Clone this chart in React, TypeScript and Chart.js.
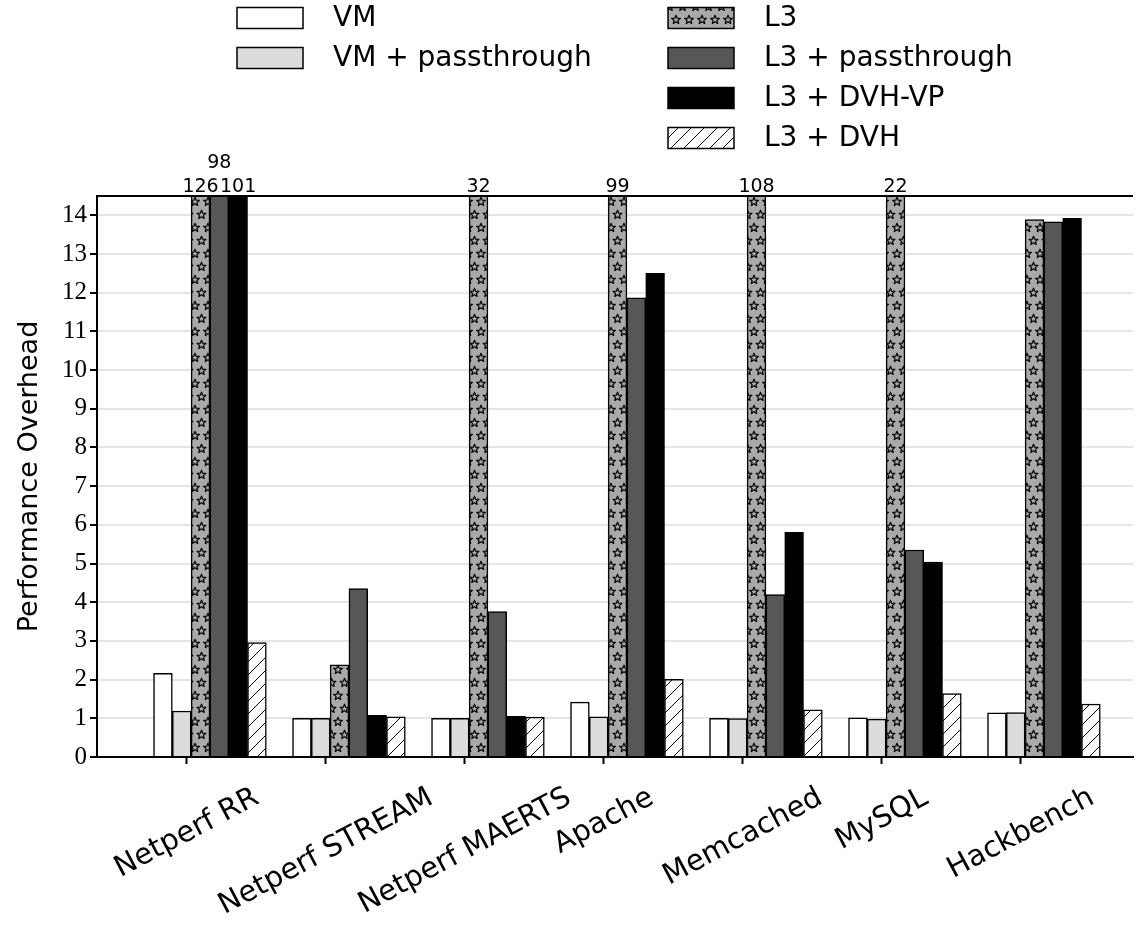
import { useEffect, useRef } from "react";
import { Chart, registerables } from "chart.js";

Chart.register(...registerables);

// Benchmarks along the x axis
const categories = [
  "Netperf RR",
  "Netperf STREAM",
  "Netperf MAERTS",
  "Apache",
  "Memcached",
  "MySQL",
  "Hackbench",
];

// Series names, in drawing order within each group
const seriesNames = [
  "VM",
  "VM + passthrough",
  "L3",
  "L3 + passthrough",
  "L3 + DVH-VP",
  "L3 + DVH",
];

// Normalized overhead per benchmark
const vm = [2.16, 1.0, 1.0, 1.42, 1.0, 1.01, 1.14];
const vmPassthrough = [1.19, 1.0, 1.0, 1.04, 0.99, 0.98, 1.15];
const l3 = [126, 2.38, 32, 99, 108, 22, 13.89];
const l3Passthrough = [98, 4.35, 3.76, 11.87, 4.2, 5.35, 13.83];
const l3DvhVp = [101, 1.08, 1.05, 12.5, 5.81, 5.04, 13.92];
const l3Dvh = [2.96, 1.04, 1.03, 2.01, 1.22, 1.64, 1.37];

const seriesValues = [vm, vmPassthrough, l3, l3Passthrough, l3DvhVp, l3Dvh];

// Value axis
const yMin = 0;
const yMax = 14.5;
const yStep = 1;

const FONT_SANS = "'DejaVu Sans', sans-serif";
const FONT_SERIF = "'Liberation Serif', 'DejaVu Serif', serif";

function makeStarPattern(ctx: CanvasRenderingContext2D): CanvasPattern {
  const c = document.createElement("canvas");
  c.width = 13;
  c.height = 26;
  const g = c.getContext("2d")!;
  g.fillStyle = "#a9a9a9";
  g.fillRect(0, 0, c.width, c.height);
  g.strokeStyle = "#000";
  g.lineWidth = 1.2;
  g.lineJoin = "round";
  const star = (cx: number, cy: number) => {
    const outer = 4.6;
    const inner = 2.0;
    g.beginPath();
    for (let i = 0; i < 10; i++) {
      const r = i % 2 === 0 ? outer : inner;
      const a = -Math.PI / 2 + (i * Math.PI) / 5;
      const px = cx + r * Math.cos(a);
      const py = cy + r * Math.sin(a);
      if (i === 0) g.moveTo(px, py);
      else g.lineTo(px, py);
    }
    g.closePath();
    g.stroke();
  };
  star(6.5, 6.8);
  star(0, 19.8);
  star(13, 19.8);
  return ctx.createPattern(c, "repeat")!;
}

function makeHatchPattern(ctx: CanvasRenderingContext2D): CanvasPattern {
  const s = 13;
  const c = document.createElement("canvas");
  c.width = s;
  c.height = s;
  const g = c.getContext("2d")!;
  g.fillStyle = "#ffffff";
  g.fillRect(0, 0, s, s);
  g.strokeStyle = "#000";
  g.lineWidth = 1;
  g.beginPath();
  g.moveTo(-1, s + 1);
  g.lineTo(s + 1, -1);
  g.moveTo(-2, 1);
  g.lineTo(1, -2);
  g.moveTo(s - 1, s + 2);
  g.lineTo(s + 2, s - 1);
  g.stroke();
  return ctx.createPattern(c, "repeat")!;
}

export default function App() {
  const canvasRef = useRef<HTMLCanvasElement | null>(null);

  useEffect(() => {
    const canvas = canvasRef.current;
    if (!canvas) return;
    const ctx = canvas.getContext("2d")!;

    const fills: (string | CanvasPattern)[] = [
      "#ffffff",
      "#dcdcdc",
      makeStarPattern(ctx),
      "#575757",
      "#000000",
      makeHatchPattern(ctx),
    ];

    // Groups sit slightly right of their tick, bars adjacent
    const groupOffset = 0.165;
    const barThickness = 18.8;

    const datasets = seriesNames.map((name, k) => ({
      label: name,
      data: seriesValues[k].map((v, i) => ({ x: i + groupOffset, y: v })),
      backgroundColor: fills[k],
      borderColor: "#000000",
      borderWidth: 1.5,
      barThickness,
    }));

    // Legend laid out in two columns
    const legendItems = [
      { k: 0, col: 0, row: 0 },
      { k: 1, col: 0, row: 1 },
      { k: 2, col: 1, row: 0 },
      { k: 3, col: 1, row: 1 },
      { k: 4, col: 1, row: 2 },
      { k: 5, col: 1, row: 3 },
    ];

    const decorations = {
      id: "decorations",
      afterDatasetsDraw(chart: Chart) {
        const c = chart.ctx;
        const area = chart.chartArea;
        c.save();
        // Values of bars that run past the top of the axis
        c.font = `19px ${FONT_SANS}`;
        c.fillStyle = "#000";
        c.textAlign = "center";
        c.textBaseline = "alphabetic";
        categories.forEach((_, i) => {
          let prevClipped = false;
          let prevLevel = 0;
          seriesValues.forEach((vals, k) => {
            const v = vals[i];
            if (v > yMax) {
              const level = prevClipped && prevLevel === 0 ? 1 : 0;
              const el: any = chart.getDatasetMeta(k).data[i];
              c.fillText(String(v), el.x, area.top - 4 - level * 24);
              prevClipped = true;
              prevLevel = level;
            } else {
              prevClipped = false;
            }
          });
        });
        c.restore();
      },
      afterDraw(chart: Chart) {
        const c = chart.ctx;
        const area = chart.chartArea;
        c.save();

        // Top spine
        c.strokeStyle = "#000";
        c.lineWidth = 2;
        c.beginPath();
        c.moveTo(area.left - 1, area.top);
        c.lineTo(area.right, area.top);
        c.stroke();

        // Rotated category labels, centred under each tick
        const xScale: any = chart.scales.x;
        const angle = (28 * Math.PI) / 180;
        const fontSize = 29;
        c.font = `${fontSize}px ${FONT_SANS}`;
        c.fillStyle = "#000";
        c.textAlign = "center";
        c.textBaseline = "middle";
        const boxTop = area.bottom + 24;
        const lineH = fontSize * 1.17;
        categories.forEach((label, i) => {
          const w = c.measureText(label).width;
          const boxH = w * Math.sin(angle) + lineH * Math.cos(angle);
          const cx = xScale.getPixelForValue(i);
          const cy = boxTop + boxH / 2;
          c.save();
          c.translate(cx, cy);
          c.rotate(-angle);
          c.fillText(label, 0, 0);
          c.restore();
        });

        // Y axis title
        c.save();
        c.font = `27px ${FONT_SANS}`;
        c.translate(30, (area.top + area.bottom) / 2);
        c.rotate(-Math.PI / 2);
        c.textAlign = "center";
        c.textBaseline = "middle";
        c.fillText("Performance Overhead", 0, 0);
        c.restore();

        // Legend
        const colX = [237, 668];
        const boxW = 66;
        const boxH = 21;
        c.font = `28px ${FONT_SANS}`;
        c.textAlign = "left";
        c.textBaseline = "middle";
        legendItems.forEach(({ k, col, row }) => {
          const x = colX[col];
          const cy = 18 + row * 40;
          c.fillStyle = fills[k] as any;
          c.fillRect(x, cy - boxH / 2, boxW, boxH);
          c.strokeStyle = "#000";
          c.lineWidth = 1.5;
          c.strokeRect(x, cy - boxH / 2, boxW, boxH);
          c.fillStyle = "#000";
          c.fillText(seriesNames[k], x + 96, cy + 1);
        });

        c.restore();
      },
    };

    const chart = new Chart(ctx, {
      type: "bar",
      data: { datasets: datasets as any },
      options: {
        responsive: false,
        animation: false,
        devicePixelRatio: 1,
        layout: { padding: { top: 196, right: 10, left: 0, bottom: 0 } },
        plugins: {
          legend: { display: false },
          tooltip: { enabled: false },
          title: { display: false },
        },
        scales: {
          x: {
            type: "linear",
            offset: false,
            min: -0.6475,
            max: 6.806,
            afterFit: (s: any) => {
              s.height = 171;
            },
            ticks: {
              display: false,
              stepSize: 1,
              includeBounds: false,
            },
            grid: {
              display: true,
              offset: false,
              drawOnChartArea: false,
              drawTicks: true,
              tickLength: 7,
              tickColor: "#000",
              tickWidth: 2,
            },
            border: { display: true, color: "#000", width: 2 },
          },
          y: {
            type: "linear",
            min: yMin,
            max: yMax,
            afterFit: (s: any) => {
              s.width = 97;
            },
            ticks: {
              stepSize: yStep,
              includeBounds: false,
              color: "#000",
              padding: 3,
              font: { family: FONT_SERIF, size: 25 },
            },
            grid: {
              color: "#e6e6e6",
              lineWidth: 2,
              drawTicks: true,
              tickLength: 7,
              tickColor: "#000",
              tickWidth: 2,
            },
            border: { display: true, color: "#000", width: 2 },
          },
        },
      },
      plugins: [decorations as any],
    });

    return () => {
      chart.destroy();
    };
  }, []);

  return (
    <div
      style={{
        position: "fixed",
        left: 0,
        top: 0,
        width: 1143,
        height: 928,
        background: "#fff",
      }}
    >
      <canvas ref={canvasRef} width={1143} height={928} />
    </div>
  );
}
